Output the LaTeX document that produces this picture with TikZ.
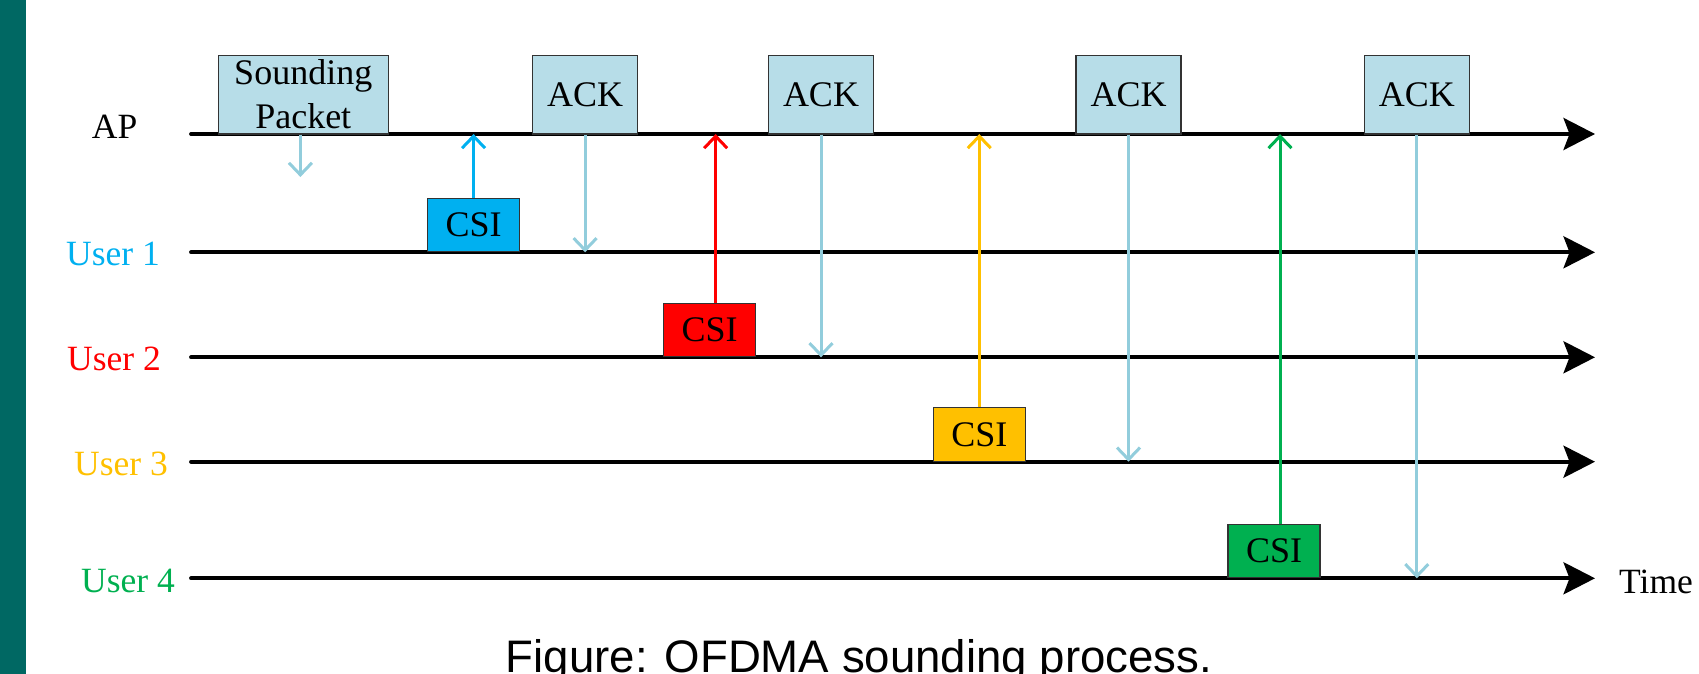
\documentclass[tikz,border=0pt]{standalone}
\usepackage{fontspec}
\setmainfont{Liberation Serif}
\newfontfamily\capfont{Liberation Sans}
\usetikzlibrary{arrows.meta}
\definecolor{tealbar}{RGB}{0,104,99}
\definecolor{boxblue}{RGB}{183,221,232}
\definecolor{ackblue}{RGB}{146,205,220}
\definecolor{uone}{RGB}{0,176,240}
\definecolor{utwo}{RGB}{255,0,0}
\definecolor{uthree}{RGB}{255,192,0}
\definecolor{ufour}{RGB}{0,176,80}
\tikzset{
  timeline/.style={line width=3.8pt, line cap=round, -{Stealth[length=31.5pt,width=32pt,inset=6pt]}},
  pktbox/.style={draw=black!80, line width=1.2pt, fill=boxblue, inner sep=0pt, minimum height=78.7pt, align=center, font=\fontsize{36}{44}\selectfont},
  ackbox/.style={pktbox, minimum width=105pt},
  csibox/.style={draw=black!80, line width=1.2pt, inner sep=0pt, minimum width=92pt, minimum height=53.5pt, anchor=south, font=\fontsize{36}{44}\selectfont},
  sig/.style={line width=3pt, -{Straight Barb[length=12pt,width=23pt]}},
  lbl/.style={anchor=base, inner sep=0pt, font=\fontsize{35.5}{40}\selectfont}
}
\begin{document}
\begin{tikzpicture}[x=1pt,y=-1pt]
\useasboundingbox (0,0) rectangle (1699,674);
\fill[tealbar] (0,0) rectangle (26,674);

% timeline coordinates
\coordinate (apS) at (191,134);     \coordinate (apE) at (1595,134);
\coordinate (u1S) at (191,252.3);   \coordinate (u1E) at (1595,252.3);
\coordinate (u2S) at (191,357.3);   \coordinate (u2E) at (1595,357.3);
\coordinate (u3S) at (191,461.7);   \coordinate (u3E) at (1595,461.7);
\coordinate (u4S) at (191,578.3);   \coordinate (u4E) at (1595,578.3);

% labels
\node[lbl] (lap) at (114.6,138.3) {AP};
\node[lbl, text=uone] (lu1) at (113,265) {User 1};
\node[lbl, text=utwo] (lu2) at (114,370) {User 2};
\node[lbl, text=uthree] (lu3) at (121,475.7) {User 3};
\node[lbl, text=ufour] (lu4) at (128,592.7) {User 4};
\node[lbl, anchor=base west] (ltime) at (1619,593.3) {Time};

% timelines
\draw[timeline] (apS) -- (apE);
\draw[timeline] (u1S) -- (u1E);
\draw[timeline] (u2S) -- (u2E);
\draw[timeline] (u3S) -- (u3E);
\draw[timeline] (u4S) -- (u4E);

% AP boxes
\node[pktbox, minimum width=170.3pt] (sp) at (303.25,94.65) {Sounding\\Packet};
\node[ackbox] (ack1) at (585.1,94.65) {ACK};
\node[ackbox] (ack2) at (821,94.65) {ACK};
\node[ackbox] (ack3) at (1128.5,94.65) {ACK};
\node[ackbox] (ack4) at (1416.8,94.65) {ACK};

% CSI boxes
\node[csibox, fill=uone] (csi1) at (473.55,252.3) {CSI};
\node[csibox, fill=utwo] (csi2) at (709.65,357.3) {CSI};
\node[csibox, fill=uthree] (csi3) at (979.25,461.7) {CSI};
\node[csibox, fill=ufour] (csi4) at (1274,578.3) {CSI};

% sounding arrow
\coordinate (spEnd) at (300.4,177);
\draw[sig, ackblue] (sp.south -| spEnd) -- (spEnd);

% CSI uplinks
\draw[sig, uone] (csi1.north) -- (csi1.north |- apS);
\draw[sig, utwo] ([xshift=6pt]csi2.north) -- ([xshift=6pt]csi2.north |- apS);
\draw[sig, uthree] (csi3.north) -- (csi3.north |- apS);
\draw[sig, ufour] ([xshift=6pt]csi4.north) -- ([xshift=6pt]csi4.north |- apS);

% ACK downlinks
\draw[sig, ackblue] (ack1.south) -- (ack1.south |- u1S);
\draw[sig, ackblue] (ack2.south) -- (ack2.south |- u2S);
\draw[sig, ackblue] (ack3.south) -- (ack3.south |- u3S);
\draw[sig, ackblue] (ack4.south) -- (ack4.south |- u4S);

% caption
\node[anchor=base, inner sep=0pt, font=\capfont\fontsize{45.6}{50}\selectfont] (cap) at (859,672.7) {Figure: OFDMA sounding process.};
\end{tikzpicture}
\end{document}
